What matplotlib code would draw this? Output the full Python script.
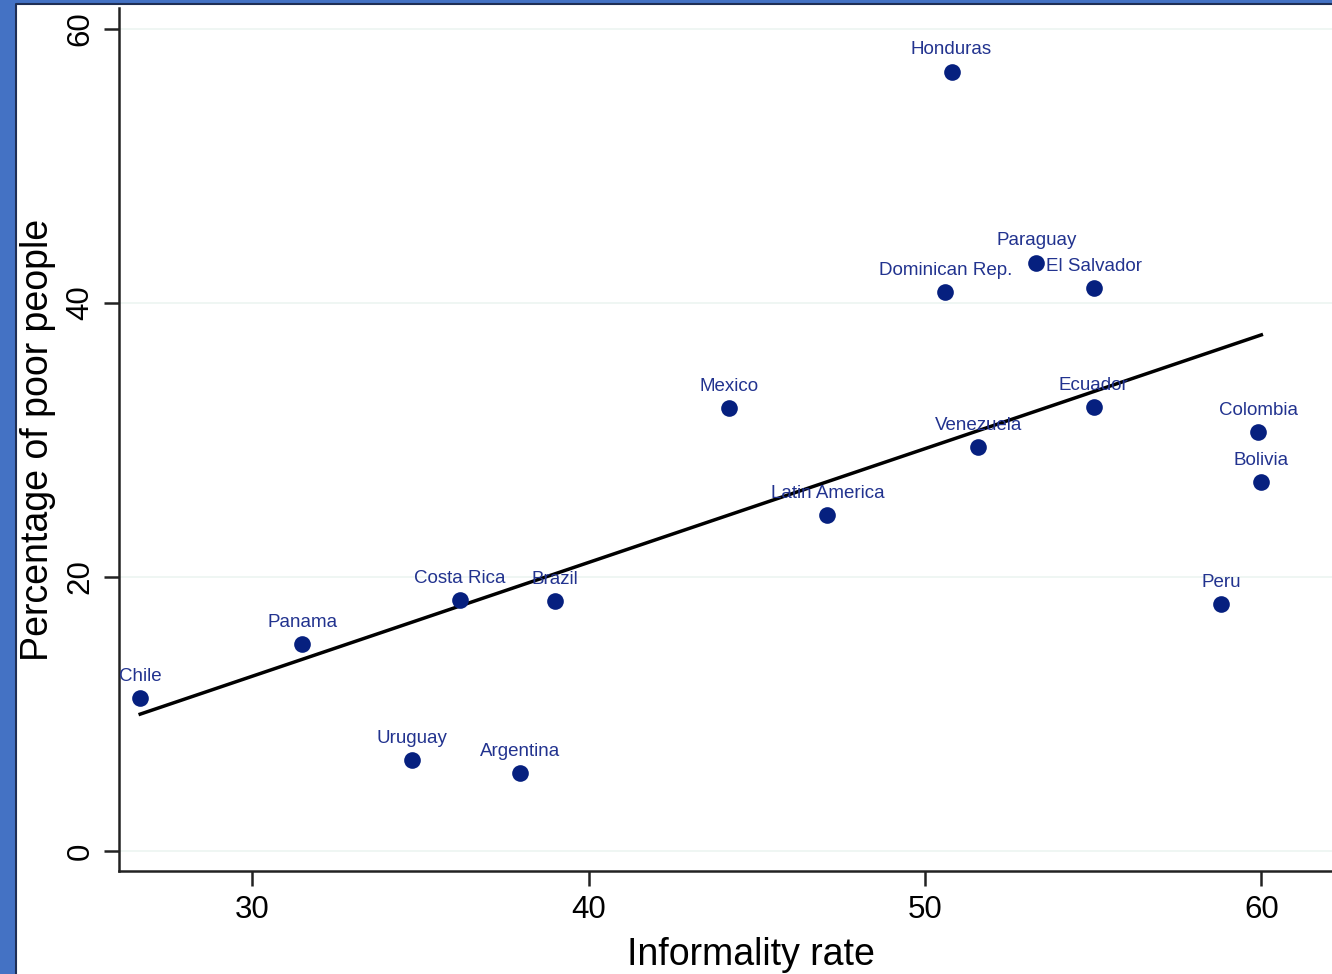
import matplotlib
matplotlib.use("Agg")
import matplotlib.pyplot as plt
from matplotlib.patches import Rectangle
from matplotlib.lines import Line2D
import numpy as np

plt.rcParams['font.family'] = ['Liberation Sans', 'DejaVu Sans']

countries = ["Honduras", "Paraguay", "El Salvador", "Dominican Rep.", "Mexico",
             "Ecuador", "Colombia", "Venezuela", "Bolivia", "Latin America",
             "Costa Rica", "Brazil", "Peru", "Panama", "Chile", "Uruguay", "Argentina"]
informality = [50.79, 53.31, 55.01, 50.61, 44.18, 55.01, 59.91, 51.59, 60.0, 47.10,
               36.18, 39.01, 58.81, 31.49, 26.67, 34.76, 37.97]
poverty = [56.86, 42.92, 41.09, 40.8, 32.34, 32.41, 30.58, 29.49, 26.93, 24.53,
           18.32, 18.25, 18.03, 15.11, 11.17, 6.64, 5.69]
xticks = [30, 40, 50, 60]
yticks = [0, 20, 40, 60]

W, H = 1332, 974
fig = plt.figure(figsize=(W / 100, H / 100), dpi=100)
fig.patch.set_facecolor('white')
fig.patch.set_edgecolor('white')
border = '#4472C4'
fig.patches.append(Rectangle((0, 0), 16 / W, 1, transform=fig.transFigure,
                             facecolor=border, edgecolor='none', zorder=-10))
fig.patches.append(Rectangle((0, 1 - 4 / H), 1, 4 / H, transform=fig.transFigure,
                             facecolor=border, edgecolor='none', zorder=-10))
fig.lines.append(Line2D([16 / W, 16 / W, 1], [0, 1 - 4 / H, 1 - 4 / H],
                        transform=fig.transFigure, color='#1f2f55', linewidth=1.5, zorder=-9))

ax = fig.add_axes([119 / W, 103 / H, (W - 119) / W, (871 - 8) / H])
ax.set_facecolor('none')
ax.set_xlim(26.04, 62.1)
ax.set_ylim(-1.46, 61.5)

for s in ['top', 'right']:
    ax.spines[s].set_visible(False)
for s in ['left', 'bottom']:
    ax.spines[s].set_linewidth(1.8)
    ax.spines[s].set_color('#222222')

ax.set_xticks(xticks)
ax.set_yticks(yticks)
ax.tick_params(axis='both', direction='out', length=11, width=1.8, color='#222222',
               labelsize=22.5, pad=6)
for lab in ax.get_yticklabels():
    lab.set_rotation(90)
    lab.set_va('center')
ax.grid(axis='y', color='#ecf5f1', linewidth=1.2)
ax.set_axisbelow(True)

x = np.array(informality)
y = np.array(poverty)
slope, intercept = np.polyfit(x, y, 1)
xl = np.array([x.min(), x.max()])
ax.plot(xl, intercept + slope * xl, color='black', linewidth=2.5, zorder=2)

ax.plot(x, y, 'o', color='#06207f', markersize=12, markeredgewidth=0, zorder=3)
for name, xi, yi in zip(countries, informality, poverty):
    ax.annotate(name, (xi, yi), xytext=(0, 9.5), textcoords='offset points',
                ha='center', va='bottom', fontsize=13.5, color='#22338f', zorder=4)

ax.set_xlabel('Informality rate', fontsize=27)
ax.xaxis.set_label_coords((751 - 119) / (W - 119), -(955 - 871) / (871 - 8))
ax.xaxis.label.set_va('center')
ax.set_ylabel('Percentage of poor people', fontsize=27)
ax.yaxis.set_label_coords(-(119 - 38) / (W - 119), (871 - 440) / (871 - 8))
ax.yaxis.label.set_va('center')

fig.savefig('out.png', dpi=100, facecolor=fig.get_facecolor())
